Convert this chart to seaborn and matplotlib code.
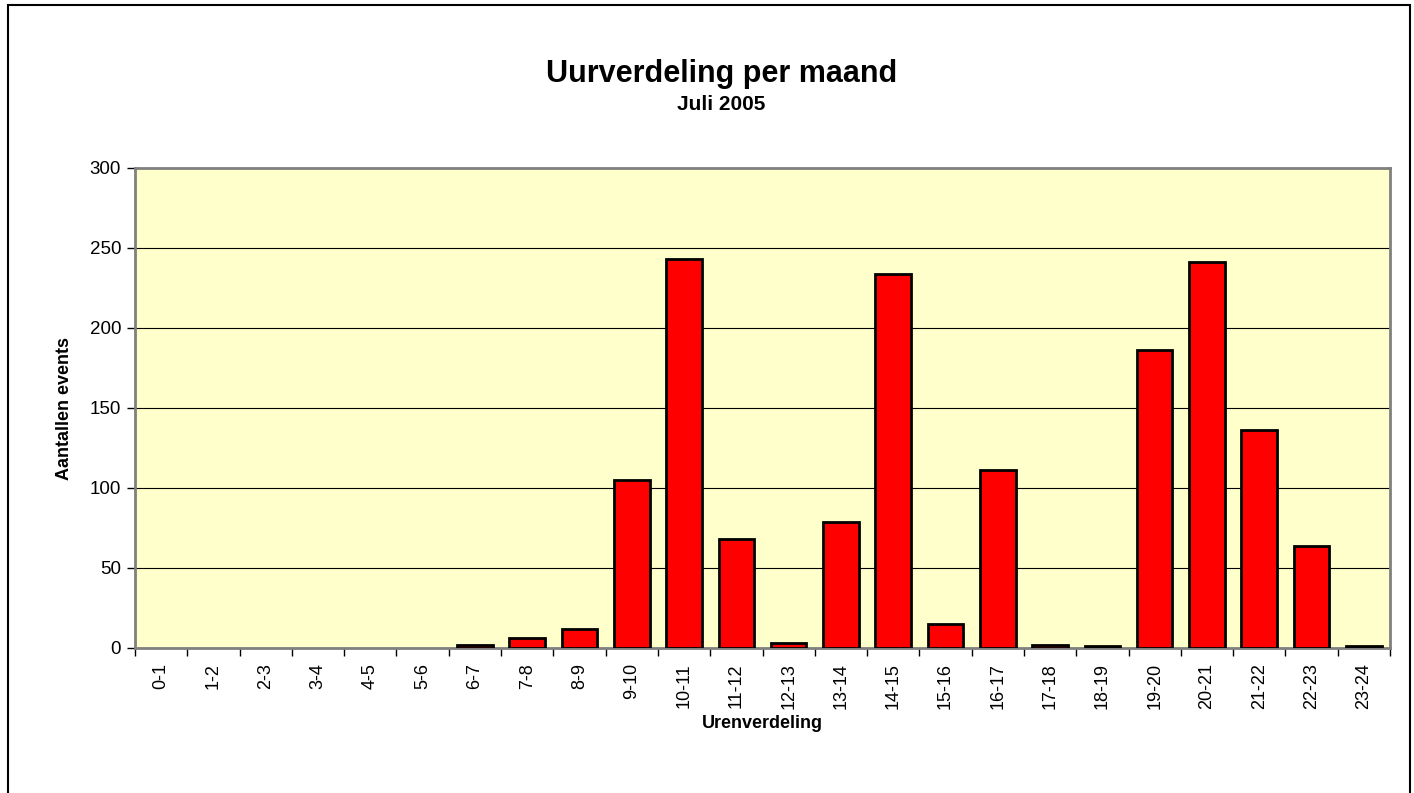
import numpy as np
import pandas as pd
import matplotlib
matplotlib.use("Agg")
import matplotlib.pyplot as plt
import seaborn as sns
from matplotlib.patches import Rectangle

# hour slots and counts
hours = ['0-1', '1-2', '2-3', '3-4', '4-5', '5-6', '6-7', '7-8', '8-9', '9-10',
         '10-11', '11-12', '12-13', '13-14', '14-15', '15-16', '16-17', '17-18',
         '18-19', '19-20', '20-21', '21-22', '22-23', '23-24']
counts = [0, 0, 0, 0, 0, 0, 2, 6, 12, 105,
          243, 68, 3, 79, 234, 15, 111, 2,
          1, 186, 241, 136, 64, 1]
y_ticks = [0, 50, 100, 150, 200, 250, 300]

data = pd.DataFrame({'uur': hours, 'aantal': counts})

sns.set_theme(style='white')
plt.rcParams['font.family'] = ['Liberation Sans', 'DejaVu Sans']
plt.rcParams['text.color'] = 'black'
plt.rcParams['axes.labelcolor'] = 'black'
plt.rcParams['xtick.color'] = 'black'
plt.rcParams['ytick.color'] = 'black'

fig = plt.figure(figsize=(14.14, 7.93), dpi=100)
ax = fig.add_axes([135 / 1414, 1 - 648 / 793, (1390 - 135) / 1414, (648 - 168) / 793])
ax.set_facecolor('#FFFFCC')

sns.barplot(data=data, x='uur', y='aantal', color='#FF0000', edgecolor='black',
            linewidth=2, width=0.68, saturation=1, ax=ax, zorder=3)

# empty slots show no bar at all
for bar, val in zip(ax.patches, counts):
    if val == 0:
        bar.set_visible(False)

ax.set_xlim(-0.5, len(hours) - 0.5)
ax.set_ylim(0, 300)
ax.set_yticks(y_ticks)
ax.yaxis.grid(True, color='black', linewidth=0.8, zorder=0)
ax.set_axisbelow(True)

# labels at centres, tick marks at category boundaries
ax.set_xticks(range(len(hours)))
ax.set_xticklabels(hours, rotation=90, fontsize=13)
ax.set_xticks(np.arange(-0.5, len(hours)), minor=True)
ax.tick_params(axis='x', which='major', length=0, pad=11)
ax.tick_params(axis='x', which='minor', length=6, width=1, color='black', direction='out', bottom=True)
ax.tick_params(axis='y', length=6, width=1, color='black', direction='out', left=True, labelsize=13.5, pad=4)

for side in ['top', 'right', 'left', 'bottom']:
    ax.spines[side].set_color('#808080')
    ax.spines[side].set_linewidth(2)

ax.set_xlabel('Urenverdeling', fontsize=13, fontweight='bold', labelpad=4)
ax.set_ylabel('Aantallen events', fontsize=13, fontweight='bold', labelpad=12)

fig.text(0.51, 1 - 74 / 793, 'Uurverdeling per maand', ha='center', va='center',
         fontsize=22, fontweight='bold')
fig.text(0.51, 1 - 104 / 793, 'Juli 2005', ha='center', va='center',
         fontsize=15, fontweight='bold')

# outer chart border
fig.patches.append(Rectangle((8 / 1414, -0.05), 1402 / 1414, 1.05 - 5 / 793,
                             transform=fig.transFigure, fill=False,
                             edgecolor='black', linewidth=1.5))

fig.savefig('out.png', dpi=100, facecolor='white')
